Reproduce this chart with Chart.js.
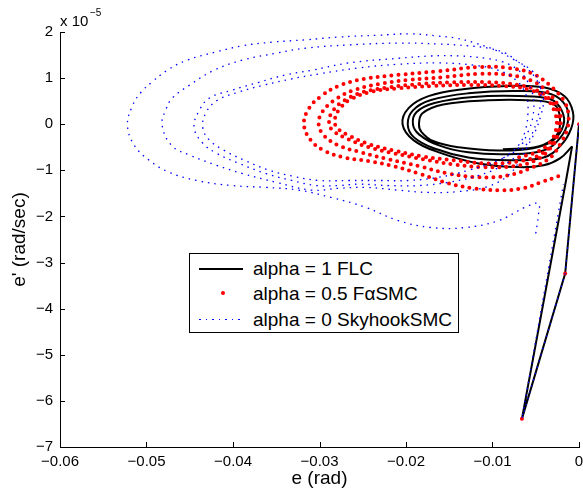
<!DOCTYPE html>
<html>
<head>
<meta charset="utf-8">
<script src="https://cdn.jsdelivr.net/npm/chart.js@4.4.1/dist/chart.umd.min.js"></script>
<style>
  body { margin: 0; background: #fff; }
  #wrap { position: relative; width: 583px; height: 492px; font-family: 'Liberation Sans', Arial, sans-serif; color: #000; }
  #phase { position: absolute; left: 0; top: 0; }
  .expo { position: absolute; white-space: nowrap; }
  #expoBase { left: 60px; top: 12px; font-size: 15px; line-height: 18px; }
  #expoPow { left: 90px; top: 7px; font-size: 10px; line-height: 12px; }
  #legend { position: absolute; left: 189px; top: 253px; width: 268px; height: 78px; border: 1px solid #000; background: #fff; font-size: 19px; }
  .row { position: absolute; left: 0; width: 100%; height: 25px; line-height: 25px; white-space: nowrap; }
  .row .txt { position: absolute; left: 63px; top: 0; }
  .smp { position: absolute; }
  .smp.solid { left: 9px; width: 44px; top: 12px; height: 2px; background: #000; }
  .smp.dot { left: 31px; top: 10px; width: 4px; height: 4px; border-radius: 50%; background: rgb(255, 0, 0); }
  .smp.dotted { left: 9px; width: 44px; top: 12px; height: 1.5px; background: repeating-linear-gradient(to right, rgb(0, 0, 255) 0 1.5px, transparent 1.5px 6.5px); }
</style>
</head>
<body>
<div id="wrap">
  <canvas id="phase" width="583" height="492"></canvas>
  <span class="expo" id="expoBase">x 10</span>
  <span class="expo" id="expoPow">&minus;5</span>
  <div id="legend">
    <div class="row" style="top:1.5px"><span class="smp solid"></span><span class="txt">alpha = 1 FLC</span></div>
    <div class="row" style="top:26.5px"><span class="smp dot"></span><span class="txt">alpha = 0.5 F&alpha;SMC</span></div>
    <div class="row" style="top:52.5px"><span class="smp dotted"></span><span class="txt">alpha = 0 SkyhookSMC</span></div>
  </div>
</div>
<script>
// axis ticks (e in rad, e' in units of 1e-5 rad/sec)
const eTicks = [-0.06, -0.05, -0.04, -0.03, -0.02, -0.01, 0];
const deTicks = [-7, -6, -5, -4, -3, -2, -1, 0, 1, 2];

// alpha = 1 FLC : initial kick, then the settling loops
const flcSpikeE = [0, -0.0016, -0.0066, -0.0015, -0.0008];
const flcSpikeDe = [0, -3.24, -6.39, -1.22, -0.48];
const flcE = [
    -0.0008, -0.0022, -0.0041, -0.0070, -0.0116, -0.0162, -0.0191, -0.0204, -0.0197, -0.0174, -0.0134, -0.0082, -0.0041, -0.0017, -0.0007, -0.0009, -0.0021, -0.0041,
    -0.0082, -0.0128, -0.0168, -0.0191, -0.0198, -0.0192, -0.0172, -0.0128, -0.0070, -0.0032, -0.0015, -0.0013, -0.0022, -0.0041,
    -0.0082, -0.0128, -0.0162, -0.0185, -0.0192, -0.0188, -0.0167, -0.0122, -0.0070, -0.0033, -0.0020, -0.0018, -0.0030, -0.0053,
    -0.0093, -0.0139, -0.0168, -0.0182, -0.0185, -0.0181, -0.0157, -0.0105, -0.0059, -0.0029, -0.0022, -0.0026, -0.0047, -0.0088
];
const flcDe = [
    -0.48, -0.74, -0.89, -0.93, -0.85, -0.61, -0.35, 0, 0.35, 0.61, 0.76, 0.83, 0.80, 0.61, 0.26, -0.09, -0.46, -0.72,
    -0.78, -0.72, -0.52, -0.28, 0, 0.30, 0.52, 0.67, 0.72, 0.65, 0.39, 0.04, -0.30, -0.57,
    -0.65, -0.61, -0.46, -0.22, 0, 0.26, 0.46, 0.59, 0.61, 0.54, 0.30, -0.02, -0.35, -0.52,
    -0.57, -0.50, -0.37, -0.17, 0, 0.24, 0.43, 0.52, 0.52, 0.43, 0.13, -0.24, -0.48, -0.54
];

// alpha = 0.5 FaSMC
const smcSpikeE = [0, -0.0016, -0.0066];
const smcSpikeDe = [0, -3.24, -6.39];
const smcE = [
    -0.0024, -0.0041, -0.0065, -0.0093, -0.0122, -0.0151, -0.0185, -0.0214, -0.0243, -0.0272, -0.0295, -0.0310, -0.0318, -0.0312,
    -0.0298, -0.0278, -0.0249, -0.0209, -0.0162, -0.0116, -0.0082, -0.0053, -0.0030, -0.0016, -0.0012, -0.0014, -0.0021, -0.0033,
    -0.0053, -0.0082, -0.0116, -0.0151, -0.0185, -0.0220, -0.0252, -0.0278, -0.0295, -0.0301, -0.0297, -0.0283, -0.0260,
    -0.0232, -0.0197, -0.0157, -0.0116, -0.0082, -0.0053, -0.0035, -0.0024, -0.0021, -0.0024, -0.0033, -0.0050,
    -0.0076, -0.0111, -0.0145, -0.0180, -0.0214, -0.0243, -0.0266, -0.0285, -0.0289, -0.0285, -0.0271, -0.0249,
    -0.0220, -0.0185, -0.0145, -0.0105, -0.0070, -0.0047, -0.0032, -0.0024, -0.0024, -0.0030, -0.0044,
    -0.0068, -0.0105, -0.0145, -0.0180, -0.0214, -0.0243, -0.0264, -0.0280, -0.0282, -0.0276, -0.0264, -0.0241,
    -0.0209, -0.0168, -0.0128, -0.0088, -0.0056, -0.0037, -0.0028, -0.0026, -0.0032, -0.0047, -0.0070
];
const smcDe = [
    -1.13, -1.24, -1.39, -1.43, -1.39, -1.28, -1.07, -0.91, -0.80, -0.72, -0.57, -0.35, 0, 0.35,
    0.61, 0.83, 0.98, 1.07, 1.15, 1.24, 1.22, 1.09, 0.78, 0.46, 0.15, -0.13, -0.41, -0.72,
    -0.93, -1.11, -1.15, -1.07, -0.91, -0.76, -0.61, -0.46, -0.24, 0, 0.26, 0.52, 0.74,
    0.87, 0.96, 1.02, 1.09, 1.07, 0.93, 0.67, 0.39, 0.09, -0.22, -0.52, -0.78,
    -0.91, -0.93, -0.87, -0.76, -0.63, -0.50, -0.33, -0.13, 0.04, 0.28, 0.52, 0.70,
    0.80, 0.87, 0.91, 0.91, 0.85, 0.72, 0.50, 0.22, -0.09, -0.39, -0.65,
    -0.80, -0.85, -0.78, -0.70, -0.57, -0.43, -0.26, -0.07, 0.13, 0.35, 0.54, 0.70,
    0.78, 0.83, 0.85, 0.83, 0.74, 0.54, 0.26, -0.04, -0.35, -0.59, -0.72
];

// alpha = 0 SkyhookSMC
const skySpikeE = [0, -0.0016, -0.0066, -0.0018];
const skySpikeDe = [0, -3.24, -6.39, -1.30];
const skyE = [
    -0.0050, -0.0047, -0.0047, -0.0062, -0.0093, -0.0131, -0.0171, -0.0209, -0.0247, -0.0286, -0.0324, -0.0362, -0.0401, -0.0442,
    -0.0474, -0.0497, -0.0514, -0.0522, -0.0516, -0.0506, -0.0494, -0.0476, -0.0453, -0.0419, -0.0389, -0.0355, -0.0316, -0.0278,
    -0.0232, -0.0194, -0.0162, -0.0143, -0.0120, -0.0097, -0.0078, -0.0062, -0.0051, -0.0045, -0.0041, -0.0044, -0.0050, -0.0059,
    -0.0068, -0.0082, -0.0105, -0.0139, -0.0174, -0.0209, -0.0247, -0.0278, -0.0309, -0.0350, -0.0389, -0.0419, -0.0450, -0.0471,
    -0.0482, -0.0478, -0.0470, -0.0450, -0.0422, -0.0389, -0.0350, -0.0316, -0.0266, -0.0209, -0.0162, -0.0128, -0.0105, -0.0085,
    -0.0070, -0.0055, -0.0047, -0.0044, -0.0047, -0.0055, -0.0068,
    -0.0088, -0.0116, -0.0151, -0.0185, -0.0220, -0.0255, -0.0278, -0.0304, -0.0332, -0.0362, -0.0393, -0.0419, -0.0435, -0.0445,
    -0.0439, -0.0427, -0.0401, -0.0370, -0.0339, -0.0309, -0.0266, -0.0209, -0.0171, -0.0139, -0.0108, -0.0088, -0.0070, -0.0059,
    -0.0053, -0.0053, -0.0059, -0.0070,
    -0.0093, -0.0128, -0.0162, -0.0197, -0.0232, -0.0266, -0.0301, -0.0330, -0.0358, -0.0387, -0.0410, -0.0427, -0.0435, -0.0431,
    -0.0418, -0.0393, -0.0364, -0.0333, -0.0301, -0.0255, -0.0209, -0.0162, -0.0122, -0.0093, -0.0073, -0.0061, -0.0059, -0.0062,
    -0.0070, -0.0088
];
const skyDe = [
    -2.37, -1.98, -1.72, -1.80, -2.09, -2.24, -2.24, -2.09, -1.80, -1.59, -1.43, -1.37, -1.33, -1.22,
    -1.04, -0.78, -0.46, -0.02, 0.41, 0.70, 0.91, 1.17, 1.39, 1.57, 1.70, 1.78, 1.83, 1.89,
    1.93, 1.96, 1.91, 1.87, 1.76, 1.61, 1.43, 1.24, 1.02, 0.80, 0.52, 0.20, -0.13, -0.46,
    -0.78, -1.11, -1.35, -1.46, -1.48, -1.43, -1.37, -1.39, -1.43, -1.26, -1.07, -0.89, -0.67, -0.46,
    -0.02, 0.30, 0.57, 0.85, 1.17, 1.39, 1.54, 1.65, 1.72, 1.76, 1.74, 1.70, 1.65, 1.54,
    1.35, 1.17, 0.96, 0.63, 0.20, -0.24, -0.61,
    -0.89, -1.11, -1.26, -1.33, -1.33, -1.30, -1.33, -1.33, -1.22, -1.07, -0.85, -0.63, -0.41, -0.07,
    0.30, 0.57, 0.74, 0.91, 1.07, 1.17, 1.33, 1.43, 1.48, 1.48, 1.43, 1.35, 1.17, 0.91,
    0.59, 0.20, -0.17, -0.52,
    -0.78, -1.00, -1.15, -1.22, -1.22, -1.22, -1.22, -1.13, -1.00, -0.78, -0.57, -0.35, -0.07, 0.26,
    0.52, 0.70, 0.85, 0.98, 1.09, 1.22, 1.30, 1.33, 1.28, 1.17, 0.96, 0.63, 0.26, -0.13,
    -0.46, -0.74
];

const pts = (xs, ys) => xs.map((x, i) => ({x: x, y: ys[i]}));
const minus = s => s.replace('-', '\u2212');

Chart.defaults.font.family = "'Liberation Sans', Arial, sans-serif";
Chart.defaults.color = '#000';

// MATLAB style: ticks point into the plot
const inwardTicks = {
    id: 'inwardTicks',
    afterDraw(chart) {
        const {ctx, chartArea: a, scales: {x, y}} = chart;
        ctx.save();
        ctx.strokeStyle = '#000';
        ctx.lineWidth = 1;
        ctx.beginPath();
        x.ticks.forEach(t => {
            const px = Math.round(x.getPixelForValue(t.value)) + 0.5;
            ctx.moveTo(px, a.bottom);
            ctx.lineTo(px, a.bottom - 5);
        });
        y.ticks.forEach(t => {
            const py = Math.round(y.getPixelForValue(t.value)) + 0.5;
            ctx.moveTo(a.left, py);
            ctx.lineTo(a.left + 5, py);
        });
        ctx.stroke();
        ctx.restore();
    }
};

const data = {
    datasets: [{
        label: 'alpha = 0 SkyhookSMC',
        data: pts(skySpikeE, skySpikeDe),
        showLine: true,
        tension: 0,
        borderColor: 'rgb(0,0,255)',
        borderWidth: 1.3,
        borderDash: [1.5, 5],
        pointRadius: 0,
        order: 0
    }, {
        label: 'alpha = 0 SkyhookSMC',
        data: pts(skyE, skyDe),
        showLine: true,
        tension: 0.4,
        borderColor: 'rgb(0,0,255)',
        borderWidth: 1.3,
        borderDash: [1.5, 5],
        pointRadius: 0,
        order: 0
    }, {
        label: 'alpha = 0.5 F\u03b1SMC',
        data: pts(smcSpikeE, smcSpikeDe),
        showLine: false,
        pointRadius: 2,
        pointBorderWidth: 0,
        pointBackgroundColor: 'rgb(255,0,0)',
        order: 1
    }, {
        label: 'alpha = 0.5 F\u03b1SMC',
        data: pts(smcE, smcDe),
        showLine: true,
        tension: 0.4,
        borderColor: 'rgb(255,0,0)',
        borderWidth: 4,
        borderDash: [0, 7],
        borderCapStyle: 'round',
        pointRadius: 0,
        order: 1
    }, {
        label: 'alpha = 1 FLC',
        data: pts(flcSpikeE, flcSpikeDe),
        showLine: true,
        tension: 0,
        borderColor: '#000',
        borderWidth: 2,
        pointRadius: 0,
        order: 2
    }, {
        label: 'alpha = 1 FLC',
        data: pts(flcE, flcDe),
        showLine: true,
        tension: 0.4,
        borderColor: '#000',
        borderWidth: 2,
        pointRadius: 0,
        order: 2
    }]
};

const config = {
    type: 'scatter',
    data: data,
    options: {
        responsive: false,
        animation: false,
        layout: {
            padding: {left: 0, right: 2, top: 32, bottom: 0}
        },
        plugins: {
            legend: {display: false},
            tooltip: {enabled: false}
        },
        scales: {
            x: {
                type: 'linear',
                min: -0.06,
                max: 0,
                afterBuildTicks: s => { s.ticks = eTicks.map(v => ({value: v})); },
                afterFit: s => { s.height = 45; s.paddingLeft = 0; s.paddingRight = 0; },
                ticks: {
                    font: {size: 15},
                    padding: 6,
                    maxRotation: 0,
                    autoSkip: false,
                    callback: v => v === 0 ? '0' : minus(v.toFixed(2))
                },
                grid: {display: false, drawTicks: false},
                border: {display: true, color: '#000', width: 1},
                title: {display: true, text: 'e (rad)', font: {size: 19}, padding: {top: 0, bottom: 2}}
            },
            y: {
                type: 'linear',
                min: -7,
                max: 2,
                afterBuildTicks: s => { s.ticks = deTicks.map(v => ({value: v})); },
                afterFit: s => { s.width = 60; s.paddingTop = 0; s.paddingBottom = 0; },
                ticks: {
                    font: {size: 15},
                    padding: 7,
                    autoSkip: false,
                    callback: v => minus(String(v))
                },
                grid: {display: false, drawTicks: false},
                border: {display: true, color: '#000', width: 1},
                title: {display: true, text: "e' (rad/sec)", font: {size: 19}, padding: {top: 8, bottom: 0}}
            }
        }
    },
    plugins: [inwardTicks]
};

const phaseChart = new Chart(document.getElementById('phase'), config);
</script>
</body>
</html>
